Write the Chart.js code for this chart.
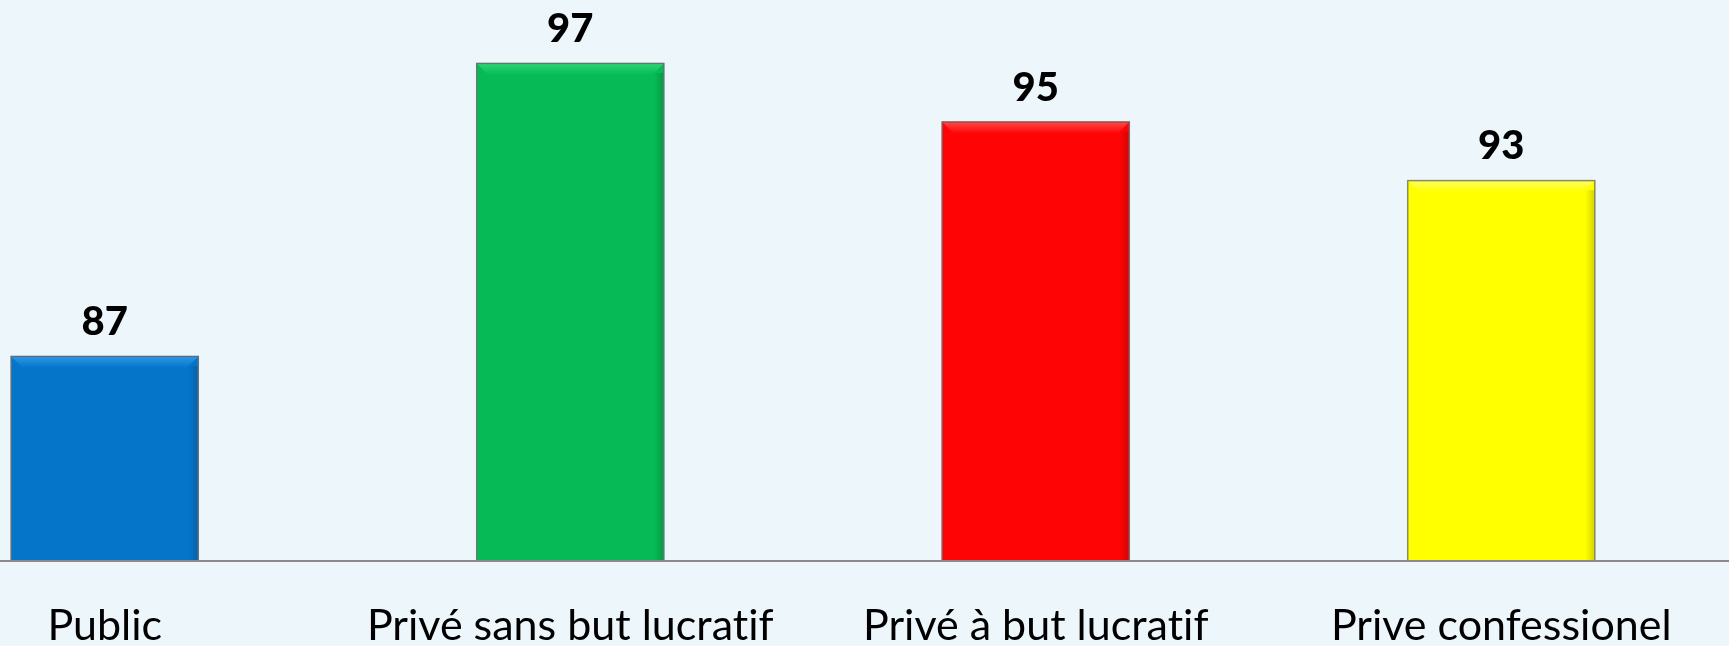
<!DOCTYPE html>
<html>
<head>
<meta charset="utf-8">
<script src="https://cdn.jsdelivr.net/npm/chart.js@4/dist/chart.umd.min.js"></script>
<style>
  html, body { margin: 0; padding: 0; width: 1729px; height: 646px; overflow: hidden; background: #ECF6FB; }
  #wrap { position: absolute; left: -128px; top: -25px; width: 1862px; height: 671px; }
  canvas { display: block; }
</style>
</head>
<body>
<div id="wrap"><canvas id="c" width="1862" height="671"></canvas></div>
<script>
const categories = ["Public", "Privé sans but lucratif", "Privé à but lucratif", "Prive confessionel"];
const values = [87, 97, 95, 93];
const barColors = ["#0575CA", "#06BB55", "#FF0404", "#FFFF00"];
const topColors = ["#2E9BE8", "#2ED877", "#FF4A4A", "#FFFF66"];

const FONT = "Lato, 'Open Sans', sans-serif";

const noLigatures = {
  id: 'noLigatures',
  beforeDraw(chart) {
    try { chart.ctx.textRendering = 'optimizeSpeed'; } catch (e) {}
  }
};

const valueLabels = {
  id: 'valueLabels',
  afterDatasetsDraw(chart) {
    const ctx = chart.ctx;
    const meta = chart.getDatasetMeta(0);
    ctx.save();
    ctx.fillStyle = '#000';
    ctx.font = '900 40px ' + FONT;
    ctx.textAlign = 'center';
    ctx.textBaseline = 'alphabetic';
    meta.data.forEach((bar, i) => {
      ctx.fillText(String(values[i]), bar.x, bar.y - 21);
    });
    ctx.restore();
  }
};

const bevel = {
  id: 'bevel',
  afterDatasetsDraw(chart) {
    const ctx = chart.ctx;
    const meta = chart.getDatasetMeta(0);
    const b = chart.chartArea.bottom;
    ctx.save();
    meta.data.forEach((bar, i) => {
      const l = bar.x - bar.width / 2, r = bar.x + bar.width / 2, t = bar.y;
      const g = ctx.createLinearGradient(0, t, 0, t + 12);
      g.addColorStop(0, topColors[i]);
      g.addColorStop(1, barColors[i]);
      ctx.fillStyle = g;
      ctx.beginPath();
      ctx.moveTo(l + 1, t + 1); ctx.lineTo(r - 1, t + 1); ctx.lineTo(r - 12, t + 12); ctx.lineTo(l + 12, t + 12); ctx.closePath();
      ctx.fill();
      const gr = ctx.createLinearGradient(r - 10, 0, r, 0);
      gr.addColorStop(0, 'rgba(0,0,0,0)');
      gr.addColorStop(1, 'rgba(0,0,0,0.18)');
      ctx.fillStyle = gr;
      ctx.fillRect(r - 10, t + 10, 9, b - t - 10);
      ctx.strokeStyle = 'rgba(110,110,110,0.8)';
      ctx.lineWidth = 1.5;
      ctx.strokeRect(l + 0.5, t + 0.5, bar.width - 1, b - t - 0.5);
    });
    ctx.restore();
  }
};

new Chart(document.getElementById('c'), {
  type: 'bar',
  data: {
    labels: categories,
    datasets: [{
      data: values,
      backgroundColor: barColors,
      borderWidth: 0,
      categoryPercentage: 1,
      barPercentage: 0.404
    }]
  },
  options: {
    responsive: false,
    devicePixelRatio: 1,
    animation: false,
    layout: { padding: 0 },
    plugins: { legend: { display: false }, tooltip: { enabled: false } },
    scales: {
      y: { display: false, min: 80, max: 100 },
      x: {
        grid: { display: false },
        border: { display: true, color: '#8A8A8A', width: 2, z: 1 },
        ticks: { color: '#000', font: { family: FONT, size: 43 }, padding: 31, maxRotation: 0, autoSkip: false },
        afterFit(scale) { scale.height = 85; }
      }
    }
  },
  plugins: [noLigatures, bevel, valueLabels]
});
</script>
</body>
</html>
